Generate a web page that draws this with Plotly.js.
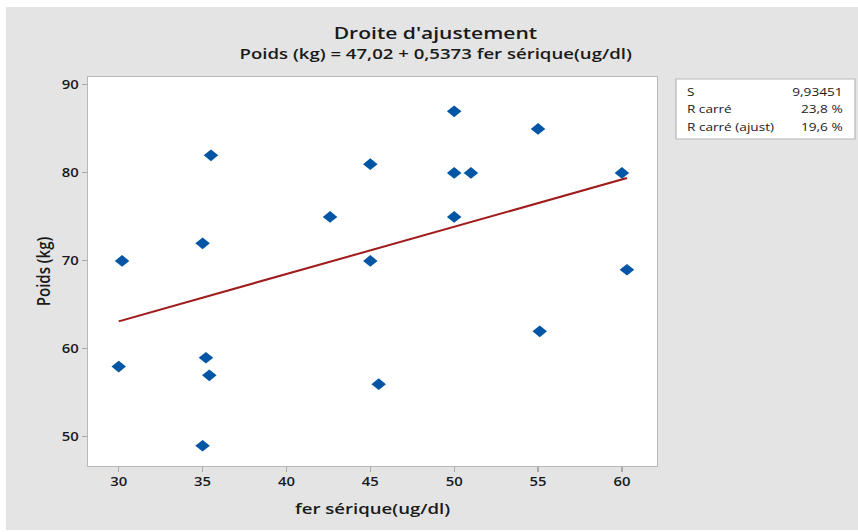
<!DOCTYPE html>
<html>
<head>
<meta charset="utf-8">
<script src="https://cdn.plot.ly/plotly-3.0.1.min.js"></script>
<style>
html,body{margin:0;padding:0;background:#fff;overflow:hidden;width:858px;height:532px;}
#chart{width:692px;height:532px;transform:scaleX(1.23988);transform-origin:0 0;}
</style>
</head>
<body>
<div id="chart"></div>
<script>
// Data
const ferSerique = [30, 30.2, 35, 35.5, 35.2, 35.4, 35, 42.6, 45, 45, 45.5, 50, 50, 50, 51, 55, 55.1, 60, 60.3];
const poids      = [58, 70,   72, 82,   59,   57,   49, 75,   81, 70, 56,   87, 80, 75, 80, 85, 62,   80, 69];
const fitIntercept = 47.02;
const fitSlope = 0.5373;
const statLabels = ["S", "R carré", "R carré (ajust)"];
const statValues = ["9,93451", "23,8 %", "19,6 %"];
const xTicks = [30, 35, 40, 45, 50, 55, 60];
const yTicks = [50, 60, 70, 80, 90];

// the reference picture is horizontally stretched; draw narrow then stretch with CSS
const W = 692, H = 532;
const S = 858 / W;
const M = {l: 71, r: 162, t: 77, b: 66};
const pw = W - M.l - M.r, ph = H - M.t - M.b;
const px = v => (v / S - M.l) / pw;     // picture pixel x -> paper x
const py = v => (H - M.b - v) / ph;     // picture pixel y -> paper y

const xMin = Math.min(...ferSerique), xMax = Math.max(...ferSerique);
const fitX = [xMin, xMax];
const fitY = fitX.map(x => fitIntercept + fitSlope * x);

const font = "'Open Sans', 'Noto Sans', sans-serif";
const txt = '#1a1a1a';

const traces = [
  {x: fitX, y: fitY, mode: 'lines', type: 'scatter',
   line: {color: '#a01c1c', width: 2}, hoverinfo: 'skip'},
  {x: ferSerique, y: poids, mode: 'markers', type: 'scatter',
   marker: {symbol: 'diamond', size: 9, color: '#0055a5'}}
];

const shapes = [
  {type: 'rect', xref: 'paper', yref: 'paper', x0: px(0), x1: px(6), y0: py(0), y1: py(H), fillcolor: '#fff', line: {width: 0}},
  {type: 'rect', xref: 'paper', yref: 'paper', x0: px(0), x1: px(858), y0: py(0), y1: py(7), fillcolor: '#fff', line: {width: 0}},
  {type: 'rect', xref: 'paper', yref: 'paper', x0: px(0), x1: px(858), y0: py(530), y1: py(H), fillcolor: '#fff', line: {width: 0}},
  {type: 'rect', xref: 'paper', yref: 'paper', x0: px(676), x1: px(855), y0: py(79), y1: py(139),
   fillcolor: '#fff', line: {color: '#b8b8b8', width: 1}}
];

const annotations = [];
const rowY = [91, 108.5, 126];
statLabels.forEach((lab, i) => {
  annotations.push({xref: 'paper', yref: 'paper', x: px(684), y: py(rowY[i]), xanchor: 'left', yanchor: 'middle',
    text: lab, showarrow: false, font: {family: font, size: 11, color: txt, weight: 500}});
  annotations.push({xref: 'paper', yref: 'paper', x: px(846), y: py(rowY[i]), xanchor: 'right', yanchor: 'middle',
    text: statValues[i], showarrow: false, font: {family: font, size: 11, color: txt, weight: 500}});
});
annotations.push({xref: 'paper', yref: 'paper', x: px(436), y: py(32), xanchor: 'center', yanchor: 'middle',
  text: "Droite d'ajustement", showarrow: false, font: {family: font, size: 17, color: txt, weight: 600}});
annotations.push({xref: 'paper', yref: 'paper', x: px(436), y: py(53), xanchor: 'center', yanchor: 'middle',
  text: "Poids (kg) = 47,02 + 0,5373 fer sérique(ug/dl)", showarrow: false, font: {family: font, size: 15, color: txt, weight: 600}});

const layout = {
  width: W, height: H,
  margin: M,
  paper_bgcolor: '#e4e4e4',
  plot_bgcolor: '#ffffff',
  showlegend: false,
  font: {family: font, color: txt},
  xaxis: {
    range: [28.17, 62.1], tickvals: xTicks, ticktext: xTicks.map(String),
    ticks: 'outside', ticklen: 5, tickcolor: '#a8a8a8', tickwidth: 1,
    showline: true, linecolor: '#b8b8b8', linewidth: 1, mirror: true,
    showgrid: false, zeroline: false,
    tickfont: {family: font, size: 12, color: txt, weight: 600},
    title: {text: 'fer sérique(ug/dl)', font: {family: font, size: 15, color: txt, weight: 600}, standoff: 14}
  },
  yaxis: {
    range: [46.7, 90.9], tickvals: yTicks, ticktext: yTicks.map(String),
    ticks: 'outside', ticklen: 4, tickcolor: '#a8a8a8', tickwidth: 1,
    showline: true, linecolor: '#b8b8b8', linewidth: 1, mirror: true,
    showgrid: false, zeroline: false,
    tickfont: {family: font, size: 12, color: txt, weight: 600},
    title: {text: 'Poids (kg)', font: {family: font, size: 15, color: txt, weight: 600}, standoff: 5}
  },
  shapes: shapes,
  annotations: annotations
};

Plotly.newPlot('chart', traces, layout, {staticPlot: true, displayModeBar: false});
</script>
</body>
</html>
